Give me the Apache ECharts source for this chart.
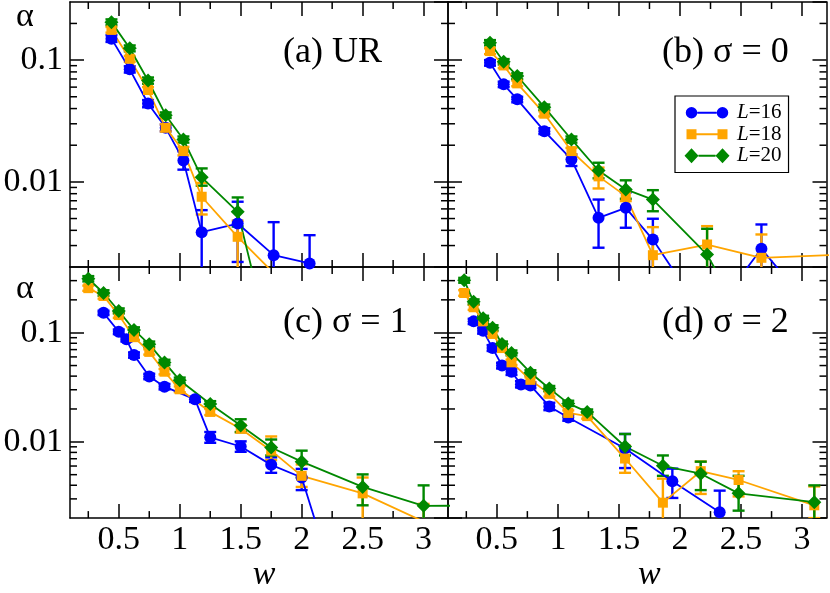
<!DOCTYPE html>
<html><head><meta charset="utf-8">
<script src="https://cdn.jsdelivr.net/npm/echarts@6/dist/echarts.min.js"></script>
<style>html,body{margin:0;padding:0;background:#fff}#c{width:830px;height:593px}</style>
</head><body><div id="c"></div>
<script>
// ---------- data ----------
const seriesNames = ['L=16', 'L=18', 'L=20'];
const panelLabels = ['(a) UR', '(b) σ = 0', '(c) σ = 1', '(d) σ = 2'];
const xMajorTicks = [0.5, 1, 1.5, 2, 2.5, 3];
const xMinorTicks = [0.25, 0.75, 1.25, 1.75, 2.25, 2.75];
const yMinorTicks = [0.003,0.004,0.005,0.006,0.007,0.008,0.009,0.02,0.03,0.04,0.05,0.06,0.07,0.08,0.09,0.2,0.3];

// (a) UR
const wA16 = [0.44,0.59,0.74,0.885,1.03,1.18,1.475,1.77,2.065];
const aA16 = [0.150,0.084,0.044,0.0278,0.0150,0.00386,0.00455,0.0025,0.00214];
const loA16 = [0.141,0.079,0.041,0.026,0.0126,0.0015,0.0022,0.0015,0.0015];
const hiA16 = [0.16,0.089,0.047,0.0296,0.0178,0.00586,0.00687,0.00467,0.00365];
const wA18 = [0.44,0.59,0.74,0.885,1.03,1.18,1.475,2.065];
const aA18 = [0.177,0.1026,0.0568,0.0278,0.0179,0.00755,0.00354,0.0009];
const loA18 = [0.168,0.097,0.054,0.026,0.0165,0.0054,0.0015,0.0005];
const hiA18 = [0.187,0.108,0.06,0.0296,0.0194,0.0098,0.0048,0.0013];
const wA20 = [0.44,0.59,0.74,0.885,1.03,1.18,1.475,1.77];
const aA20 = [0.205,0.125,0.068,0.0353,0.0223,0.0109,0.00568,0.00036];
const loA20 = [0.194,0.118,0.064,0.0335,0.021,0.0093,0.0043,0.0002];
const hiA20 = [0.216,0.132,0.072,0.0372,0.0236,0.0129,0.00745,0.0005];

// (b) sigma = 0
const wB16 = [0.444,0.556,0.667,0.889,1.111,1.333,1.556,1.778,2.222,2.667,3.111];
const aB16 = [0.0953,0.0632,0.0476,0.0261,0.0153,0.00507,0.00612,0.00336,0.00072,0.00282,0.00083];
const loB16 = [0.09,0.06,0.045,0.0247,0.0135,0.00288,0.0042,0.0015,0.0004,0.0015,0.0005];
const hiB16 = [0.1,0.0665,0.05,0.0276,0.0168,0.00716,0.0082,0.00498,0.001,0.00447,0.0011];
const wB18 = [0.444,0.556,0.667,0.889,1.111,1.333,1.556,1.778,2.222,2.667,3.6];
const aB18 = [0.1186,0.0904,0.0644,0.0363,0.0179,0.0111,0.00764,0.0025,0.00306,0.00238,0.0026];
const loB18 = [0.112,0.086,0.061,0.0345,0.0168,0.00883,0.00695,0.0015,0.0015,0.0015,0.002];
const hiB18 = [0.125,0.095,0.068,0.038,0.019,0.0131,0.0084,0.00425,0.00433,0.0037,0.0034];
const wB20 = [0.444,0.556,0.667,0.889,1.111,1.333,1.556,1.778,2.222,2.667];
const aB20 = [0.139,0.097,0.074,0.0411,0.0223,0.0124,0.00867,0.00716,0.00253,0.0004];
const loB20 = [0.132,0.092,0.07,0.039,0.021,0.0107,0.00727,0.00574,0.0015,0.0002];
const hiB20 = [0.146,0.102,0.078,0.0432,0.0236,0.01436,0.0103,0.00855,0.00412,0.0006];

// (c) sigma = 1
const wC16 = [0.375,0.5,0.5625,0.625,0.75,0.875,1.125,1.25,1.5,1.75,2,2.25];
const aC16 = [0.152,0.102,0.087,0.0624,0.0397,0.032,0.0245,0.011,0.00906,0.00615,0.00471,0.0006];
const loC16 = [0.145,0.097,0.083,0.059,0.0375,0.0302,0.0232,0.0098,0.0081,0.0052,0.00361,0.0003];
const hiC16 = [0.159,0.107,0.091,0.066,0.042,0.0339,0.0259,0.0123,0.0101,0.0072,0.00565,0.0009];
const wC18 = [0.25,0.375,0.5,0.625,0.75,0.875,1,1.25,1.5,1.75,2,2.5,3];
const aC18 = [0.256,0.217,0.145,0.091,0.0667,0.0439,0.0303,0.0188,0.0132,0.0083,0.00488,0.00337,0.00186];
const loC18 = [0.242,0.205,0.137,0.086,0.063,0.0415,0.0285,0.0176,0.0122,0.0068,0.00386,0.0015,0.0012];
const hiC18 = [0.27,0.23,0.153,0.096,0.0705,0.0465,0.0322,0.02,0.0143,0.0112,0.0062,0.00471,0.0027];
const wC20 = [0.25,0.375,0.5,0.625,0.75,0.875,1,1.25,1.5,1.75,2,2.5,3,3.5];
const aC20 = [0.312,0.231,0.158,0.106,0.0782,0.0534,0.0366,0.0222,0.0141,0.00887,0.00658,0.00386,0.00259,0.0026];
const loC20 = [0.295,0.218,0.15,0.1,0.074,0.0505,0.0345,0.0208,0.0123,0.0075,0.00471,0.00262,0.0015,0.002];
const hiC20 = [0.33,0.245,0.167,0.112,0.083,0.0565,0.0388,0.0236,0.0161,0.0105,0.0083,0.00503,0.00399,0.0034];

// (d) sigma = 2
const wD16 = [0.31,0.3875,0.465,0.5425,0.62,0.6975,0.775,0.93,1.085,1.55,1.9375,2.325];
const aD16 = [0.127,0.104,0.0723,0.05,0.0439,0.0336,0.0329,0.0211,0.0167,0.00869,0.00435,0.00226];
const loD16 = [0.12,0.098,0.068,0.047,0.041,0.0315,0.031,0.0195,0.0156,0.00575,0.00306,0.0015];
const hiD16 = [0.134,0.11,0.077,0.053,0.047,0.036,0.035,0.0228,0.0178,0.0118,0.00568,0.00357];
const wD18 = [0.2325,0.31,0.3875,0.465,0.5425,0.62,0.775,0.93,1.085,1.24,1.55,1.86,2.17,2.48,3.1];
const aD18 = [0.231,0.171,0.127,0.0974,0.0723,0.0535,0.037,0.0275,0.0184,0.0172,0.00703,0.00277,0.00538,0.00447,0.00262];
const loD18 = [0.218,0.162,0.12,0.092,0.0685,0.0507,0.035,0.026,0.0174,0.0163,0.0052,0.0015,0.00333,0.00316,0.002];
const hiD18 = [0.245,0.18,0.134,0.103,0.0763,0.0565,0.039,0.029,0.0194,0.0182,0.0092,0.0046,0.0066,0.00538,0.0039];
const wD20 = [0.2325,0.31,0.3875,0.465,0.5425,0.62,0.775,0.93,1.085,1.24,1.55,1.86,2.17,2.48,3.1];
const aD20 = [0.302,0.192,0.136,0.111,0.0787,0.0653,0.043,0.0308,0.0225,0.0188,0.00906,0.00603,0.0051,0.00337,0.0028];
const loD20 = [0.287,0.182,0.129,0.105,0.0747,0.062,0.0408,0.0292,0.0213,0.0178,0.0075,0.00488,0.00361,0.00234,0.0015];
const hiD20 = [0.318,0.202,0.143,0.117,0.083,0.0688,0.0453,0.0325,0.0238,0.0198,0.0118,0.0075,0.00658,0.00488,0.00399];

// ---------- layout / style ----------
const FONT = '"Liberation Serif", "Times New Roman", serif';
const COLORS = ['#0000ff', '#ffa500', '#008800'];
const SYMBOLS = ['circle', 'rect', 'diamond'];
const SYMSIZE = [12, 10, 14];
const X_MIN = 0.1, X_MAX = 3.2, Y_MIN = 0.002;
const panels = [
  {grid: {left: 70, top: 2, width: 378, height: 265}, yMax: 0.3, labels: false,
   s: [[wA16,aA16,loA16,hiA16],[wA18,aA18,loA18,hiA18],[wA20,aA20,loA20,hiA20]], txt: [283, 53], alphaY: 17},
  {grid: {left: 448, top: 2, width: 378.5, height: 265}, yMax: 0.3, labels: false,
   s: [[wB16,aB16,loB16,hiB16],[wB18,aB18,loB18,hiB18],[wB20,aB20,loB20,hiB20]], txt: [662, 53]},
  {grid: {left: 70, top: 267, width: 378, height: 266}, yMax: 0.4, labels: true, namePad: 10,
   s: [[wC16,aC16,loC16,hiC16],[wC18,aC18,loC18,hiC18],[wC20,aC20,loC20,hiC20]], txt: [283, 322.5], alphaY: 289},
  {grid: {left: 448, top: 267, width: 378.5, height: 266}, yMax: 0.4, labels: true, namePad: 24,
   s: [[wD16,aD16,loD16,hiD16],[wD18,aD18,loD18,hiD18],[wD20,aD20,loD20,hiD20]], txt: [662, 322.5]}
];

const axLine = {show: true, onZero: false, lineStyle: {color: '#000', width: 1.5}};
const tickStyle = {color: '#000', width: 1.5};

const grids = [], xAxes = [], yAxes = [], series = [], graphics = [];

function errItem(color) {
  return function (params, api) {
    const x = api.value(0), lo = api.value(1), hi = api.value(2);
    const p1 = api.coord([x, hi]), p2 = api.coord([x, lo]);
    const hw = 6;
    const st = {stroke: color, lineWidth: 2.4, fill: null};
    return {type: 'group', children: [
      {type: 'line', shape: {x1: p1[0], y1: p1[1], x2: p2[0], y2: p2[1]}, style: st},
      {type: 'line', shape: {x1: p1[0] - hw, y1: p1[1], x2: p1[0] + hw, y2: p1[1]}, style: st},
      {type: 'line', shape: {x1: p2[0] - hw, y1: p2[1], x2: p2[0] + hw, y2: p2[1]}, style: st}
    ]};
  };
}
function yTickItem(params, api) {
  const cs = params.coordSys;
  const y = api.coord([1, api.value(1)])[1];
  const st = {stroke: '#000', lineWidth: 1.5};
  return {type: 'group', children: [
    {type: 'line', shape: {x1: cs.x, y1: y, x2: cs.x + 7, y2: y}, style: st},
    {type: 'line', shape: {x1: cs.x + cs.width - 7, y1: y, x2: cs.x + cs.width, y2: y}, style: st}
  ]};
}
function xTickItem(params, api) {
  const cs = params.coordSys;
  const x = api.coord([api.value(0), 0.01])[0];
  const st = {stroke: '#000', lineWidth: 1.5};
  return {type: 'group', children: [
    {type: 'line', shape: {x1: x, y1: cs.y, x2: x, y2: cs.y + 7}, style: st},
    {type: 'line', shape: {x1: x, y1: cs.y + cs.height - 7, x2: x, y2: cs.y + cs.height}, style: st}
  ]};
}

panels.forEach((p, gi) => {
  grids.push(Object.assign({containLabel: false}, p.grid));
  const xi = xAxes.length, yi = yAxes.length;
  xAxes.push({
    type: 'value', gridIndex: gi, position: 'bottom', min: X_MIN, max: X_MAX,
    axisLine: axLine,
    axisTick: {show: true, inside: true, length: 14, customValues: xMajorTicks, lineStyle: tickStyle},
    axisLabel: {show: p.labels, customValues: xMajorTicks, margin: 5, color: '#000',
      fontFamily: FONT, fontSize: 34, lineHeight: 34},
    splitLine: {show: false},
    name: p.labels ? 'w' : '', nameLocation: 'middle', nameGap: 29,
    nameTextStyle: {fontFamily: FONT, fontStyle: 'italic', fontSize: 34, lineHeight: 34, color: '#000',
      padding: [0, 0, 0, p.namePad || 0]}
  });
  xAxes.push({
    type: 'value', gridIndex: gi, position: 'top', min: X_MIN, max: X_MAX,
    axisLine: axLine,
    axisTick: {show: true, inside: true, length: 14, customValues: xMajorTicks, lineStyle: tickStyle},
    axisLabel: {show: false}, splitLine: {show: false}
  });
  yAxes.push({
    type: 'log', logBase: 10, gridIndex: gi, position: 'left', min: Y_MIN, max: p.yMax,
    axisLine: axLine,
    axisTick: {show: true, inside: true, length: 14, lineStyle: tickStyle},
    axisLabel: {show: gi % 2 === 0, margin: 7, color: '#000', fontFamily: FONT, fontSize: 34,
      showMinLabel: false, showMaxLabel: false,
      formatter: v => String(+(+v).toPrecision(6))},
    splitLine: {show: false}, minorTick: {show: false}
  });
  yAxes.push({
    type: 'log', logBase: 10, gridIndex: gi, position: 'right', min: Y_MIN, max: p.yMax,
    axisLine: axLine,
    axisTick: {show: true, inside: true, length: 14, lineStyle: tickStyle},
    axisLabel: {show: false}, splitLine: {show: false}
  });

  // minor ticks
  series.push({
    type: 'custom', xAxisIndex: xi, yAxisIndex: yi, silent: true, clip: false,
    data: yMinorTicks.filter(v => v < p.yMax).map(v => [1, v]),
    encode: {x: 0, y: 1}, renderItem: yTickItem, z: 1
  });
  series.push({
    type: 'custom', xAxisIndex: xi, yAxisIndex: yi, silent: true, clip: false,
    data: xMinorTicks.map(v => [v, 0.01]),
    encode: {x: 0, y: 1}, renderItem: xTickItem, z: 1
  });

  p.s.forEach((arr, k) => {
    const [w, a, lo, hi] = arr;
    series.push({
      type: 'custom', name: 'err' + k, xAxisIndex: xi, yAxisIndex: yi, silent: true, clip: true,
      data: w.map((x, i) => [x, lo[i], hi[i]]),
      encode: {x: 0, y: [1, 2]}, renderItem: errItem(COLORS[k]), z: 2
    });
    series.push({
      type: 'line', name: seriesNames[k], xAxisIndex: xi, yAxisIndex: yi, clip: true,
      data: w.map((x, i) => [x, a[i]]),
      symbol: SYMBOLS[k], symbolSize: SYMSIZE[k], showSymbol: true,
      lineStyle: {color: COLORS[k], width: 1.8},
      itemStyle: {color: COLORS[k], borderWidth: 0},
      emphasis: {disabled: true}, z: 2
    });
  });

  graphics.push({type: 'text', x: p.txt[0], y: p.txt[1],
    style: {text: panelLabels[gi], fill: '#000', font: '36px ' + FONT, align: 'left', verticalAlign: 'middle'}});
  if (p.alphaY) {
    graphics.push({type: 'text', x: 25, y: p.alphaY,
      style: {text: 'α', fill: '#000', font: '34px ' + FONT, align: 'center', verticalAlign: 'middle'}});
  }
});

const ICON_CIRCLE = 'path://M0,0M46,15M1.75,7.5A5.75,5.75,0,1,1,13.25,7.5A5.75,5.75,0,1,1,1.75,7.5Z M32.75,7.5A5.75,5.75,0,1,1,44.25,7.5A5.75,5.75,0,1,1,32.75,7.5Z M13.3,6.6H32.7V8.4H13.3Z';
const ICON_RECT = 'path://M0,0M46,15M2.5,2.5H12.5V12.5H2.5Z M33.5,2.5H43.5V12.5H33.5Z M12.5,6.6H33.5V8.4H12.5Z';
const ICON_DIAMOND = 'path://M0,0M46,15M7.5,0L14.5,7.5L7.5,15L0.5,7.5Z M38.5,0L45.5,7.5L38.5,15L31.5,7.5Z M14.5,6.6H31.5V8.4H14.5Z';
const ICONS = [ICON_CIRCLE, ICON_RECT, ICON_DIAMOND];

const option = {
  animation: false,
  backgroundColor: '#fff',
  grid: grids, xAxis: xAxes, yAxis: yAxes, series: series,
  legend: {
    left: 675, top: 96, orient: 'vertical', itemWidth: 46, itemHeight: 15, itemGap: 0,
    padding: [6, 7, 6, 9], borderColor: '#000', borderWidth: 1.2, backgroundColor: '#fff',
    symbolKeepAspect: true, selectedMode: false,
    textStyle: {fontFamily: FONT, fontSize: 21, lineHeight: 21.5, color: '#000', padding: [0, 0, 0, 2],
      rich: {i: {fontStyle: 'italic', fontFamily: FONT, fontSize: 21, color: '#000'},
             n: {fontFamily: FONT, fontSize: 21, color: '#000'}}},
    formatter: n => '{i|L}{n|' + n.slice(1) + '}',
    data: seriesNames.map((n, k) => ({name: n, icon: ICONS[k], itemStyle: {color: COLORS[k], borderWidth: 0}}))
  },
  graphic: graphics
};

const chart = echarts.init(document.getElementById('c'), null, {renderer: 'canvas'});
chart.setOption(option);
</script></body></html>
